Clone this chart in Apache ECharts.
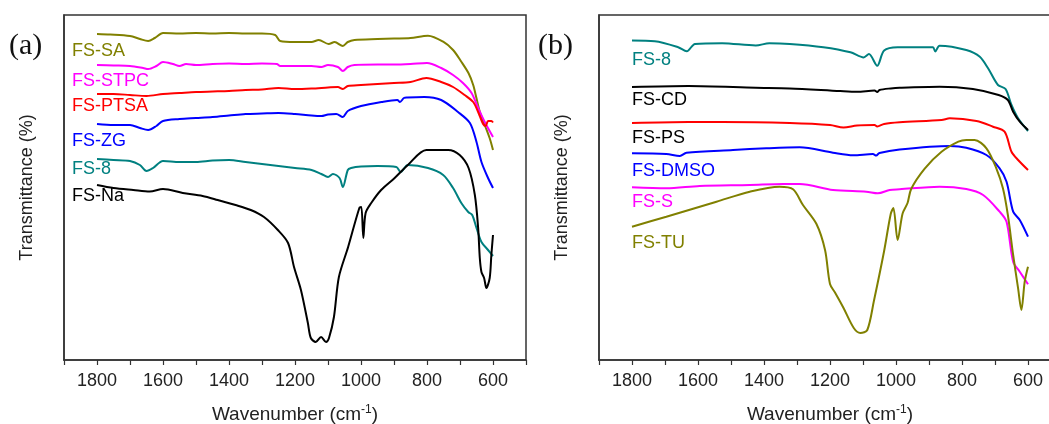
<!DOCTYPE html>
<html>
<head>
<meta charset="utf-8">
<script src="https://cdn.jsdelivr.net/npm/echarts@6/dist/echarts.min.js"></script>
<style>
html,body{margin:0;padding:0;background:#fff;}
#chart{width:1049px;height:424px;}
</style>
</head>
<body>
<div id="chart"></div>
<script>
// x tick labels (wavenumber, cm-1)
const tickLabels = [1800, 1600, 1400, 1200, 1000, 800, 600];

// Panel (a) spectra: [wavenumber, transmittance (a.u., offset)]
const fsSA = [[1800,326],[1760,325.5],[1700,324],[1670,321],[1645,319],[1625,322],[1600,327],[1550,326.5],[1500,327],[1450,326.5],[1400,327],[1350,326.5],[1300,326.5],[1260,325],[1245,319],[1200,318],[1150,318],[1128,320],[1098,316],[1080,318],[1055,314],[1040,318],[1020,320],[950,321],[900,321.5],[850,322],[797,324.3],[751,318.3],[721,310],[696,298.3],[674,286.7],[660,275],[650,261.7],[640,248.3],[625,235],[610,221.7],[600,210]];
const fsSTPC = [[1800,295],[1750,294.5],[1700,294],[1660,292],[1645,291],[1620,294],[1600,298],[1570,296],[1550,294],[1530,296],[1500,295],[1450,296],[1400,296.5],[1350,296],[1300,296.5],[1255,296],[1245,294],[1200,294],[1150,294],[1120,293],[1100,295],[1070,293],[1055,289],[1040,293],[1020,295],[950,295.5],[900,295.5],[850,296],[800,297],[757,292],[721,285],[691,277],[665,267],[645,252],[625,238],[600,223]];
const fsPTSA = [[1800,266],[1750,266],[1700,265],[1650,264],[1600,266],[1550,267],[1500,268],[1450,268.5],[1400,269],[1350,270],[1300,270.5],[1250,272],[1200,271],[1150,271.5],[1100,272.5],[1070,273],[1055,271],[1040,274],[1000,275],[950,276],[900,277],[850,278],[802,282],[757,278],[721,273],[686,265],[660,258],[645,248],[630,236],[622,234],[615,239],[605,239],[600,237.5]];
const fsZG = [[1800,236],[1750,235],[1700,235],[1670,232],[1645,230],[1620,234],[1600,239],[1550,241],[1500,242],[1450,243],[1400,244.5],[1350,246],[1300,246.5],[1250,247],[1200,246],[1150,244.5],[1120,244],[1100,245.5],[1075,246],[1055,243],[1040,249],[1000,254],[938,258],[890,260],[882,258],[870,262],[860,262.5],[808,263],[757,260],[706,248],[670,237],[650,218],[635,198],[615,182],[600,172]];
const fs8a = [[1800,201],[1750,200],[1700,199],[1670,195],[1650,189],[1630,192],[1600,199],[1550,198],[1500,198],[1450,199.5],[1400,200],[1350,198],[1300,196],[1250,194],[1200,192],[1150,190],[1120,186],[1100,183],[1085,186],[1065,182],[1055,173],[1040,190],[1030,192],[1000,193.5],[950,194],[893,193],[880,188],[858,195],[797,192],[751,185],[721,172],[696,157],[675,148],[663,145],[650,132],[635,118],[615,110],[600,104]];
const fsNa = [[1800,175],[1750,172],[1690,170],[1640,168.5],[1600,171],[1540,167],[1480,164],[1434,160],[1380,155],[1334,150],[1294,143],[1252,130],[1221,117],[1203,93],[1182,70],[1161,37],[1152,22],[1137,18],[1121,23],[1106,18],[1097,22],[1082,43],[1067,83],[1039,113],[1005,152],[999,153],[993,122],[986,147],[969,157],[939,170],[898,182],[858,195],[802,210],[736,210],[701,205],[674,192],[655,165],[645,132],[640,102],[635,88],[627,82],[620,72],[610,82],[605,105],[600,125]];

// Panel (b) spectra
const fs8b = [[1800,319.5],[1731,318.8],[1660,312.8],[1634,308.7],[1609,316.1],[1527,316.8],[1425,314.5],[1384,316.8],[1322,316.1],[1220,312.8],[1138,307.7],[1098,302.6],[1082,306],[1057,294.2],[1036,309.4],[995,312.7],[913,312.8],[888,312.7],[881,308.5],[868,314.3],[787,310],[746,303.3],[721,291.7],[691,275],[668,271],[650,255],[630,241.7],[600,229]];
const fsCD = [[1800,273],[1629,274],[1425,272.3],[1322,271.6],[1169,268.9],[1118,268.2],[1065,269.5],[1057,268],[1050,270],[1016,271.6],[989,272.3],[868,273.3],[767,271],[689,265],[661,260],[645,248.3],[625,238.3],[600,230]];
const fsPS = [[1800,237],[1629,238],[1527,238],[1322,237],[1200,235],[1159,232.5],[1118,234.5],[1065,235],[1057,233.5],[1036,236],[989,237.7],[862,240],[837,241.7],[756,239],[706,233.3],[671,228.3],[650,208.3],[630,200],[600,190]];
const fsDMSO = [[1800,206.7],[1696,206],[1655,204],[1635,207.3],[1494,210],[1393,211.7],[1292,212.7],[1191,207.3],[1130,204.7],[1070,206],[1060,204.5],[1050,207],[989,210.5],[837,214],[787,212.3],[726,205],[686,191.7],[665,178.3],[645,148.3],[625,140],[600,123.3]];
const fsS = [[1800,172.7],[1696,171.7],[1595,174],[1443,175],[1342,176],[1292,176],[1191,170],[1090,168.3],[1055,166.7],[1019,170],[989,170.7],[868,173.3],[787,171],[736,165],[686,148.3],[665,138.3],[645,98.3],[625,88.3],[600,75.7]];
const fsTU = [[1800,133.3],[1696,143.3],[1544,158.3],[1443,168.3],[1353,173.3],[1312,170.7],[1282,155],[1241,136],[1215,110],[1200,76],[1184,67],[1159,52],[1128,32],[1108,27],[1087,30],[1067,59],[1036,109],[1016,146],[1008,152],[995,120],[980,146.5],[965,157],[954,171],[913,191.3],[862,208.2],[811,218.3],[787,220],[762,220],[726,211.7],[696,191.7],[676,171.7],[661,145],[645,105],[630,71.7],[620,50],[610,78.3],[600,93.3]];

const namesA = ['FS-SA','FS-STPC','FS-PTSA','FS-ZG','FS-8','FS-Na'];
const dataA = [fsSA, fsSTPC, fsPTSA, fsZG, fs8a, fsNa];
const colorsA = ['#808000','#ff00ff','#ff0000','#0000ff','#008080','#000000'];
const namesB = ['FS-8','FS-CD','FS-PS','FS-DMSO','FS-S','FS-TU'];
const dataB = [fs8b, fsCD, fsPS, fsDMSO, fsS, fsTU];
const colorsB = ['#008080','#000000','#ff0000','#0000ff','#ff00ff','#808000'];
const labelColorsB = ['#008080','#000000','#000000','#0000ff','#ff00ff','#808000'];

const FONT = '"Liberation Sans", Arial, sans-serif';
const AX = '#333';

function xAxisCfg(gi){
  return {
    gridIndex: gi, type: 'value', min: 500, max: 1900, interval: 100, inverse: true,
    axisLine: {show: true, onZero: false, lineStyle: {color: AX, width: 1.5}},
    axisTick: {show: true, inside: false, length: 5, lineStyle: {color: AX, width: 1.2}},
    axisLabel: {fontSize: 18, color: '#222', fontFamily: FONT, margin: 12,
      formatter: v => tickLabels.indexOf(v) >= 0 ? String(v) : ''},
    splitLine: {show: false},
    name: 'Wavenumber (cm{sup|-1})', nameLocation: 'middle', nameGap: 44,
    nameTextStyle: {fontSize: 19, color: '#222', fontFamily: FONT,
      rich: {sup: {fontSize: 12, color: '#222', fontFamily: FONT, verticalAlign: 'top', padding: [0,0,9,0]}}}
  };
}
function yAxisCfg(gi){
  return {
    gridIndex: gi, type: 'value', min: 0, max: 345,
    axisLine: {show: true, lineStyle: {color: AX, width: 1.5}},
    axisTick: {show: false}, axisLabel: {show: false}, splitLine: {show: false},
    name: 'Transmittance (%)', nameLocation: 'middle', nameGap: 28,
    nameTextStyle: {fontSize: 18, color: '#222', fontFamily: FONT}
  };
}

const series = [];
dataA.forEach((d, i) => series.push({name: namesA[i], type: 'line', xAxisIndex: 0, yAxisIndex: 0, data: d,
  showSymbol: false, smooth: 0.3, lineStyle: {color: colorsA[i], width: 2}, itemStyle: {color: colorsA[i]}}));
dataB.forEach((d, i) => series.push({name: namesB[i] + ' ', type: 'line', xAxisIndex: 1, yAxisIndex: 1, data: d,
  showSymbol: false, smooth: 0.3, lineStyle: {color: colorsB[i], width: 2}, itemStyle: {color: colorsB[i]}}));

const labelYA = [51, 81, 106, 141, 169, 196];
const labelYB = [60, 100, 138.5, 171, 202, 243.5];
const graphics = [];
namesA.forEach((n, i) => graphics.push({type: 'text', x: 72, y: labelYA[i],
  style: {text: n, fill: colorsA[i], font: '18px ' + FONT, verticalAlign: 'middle'}}));
namesB.forEach((n, i) => graphics.push({type: 'text', x: 632, y: labelYB[i],
  style: {text: n, fill: labelColorsB[i], font: '18px ' + FONT, verticalAlign: 'middle'}}));
graphics.push({type: 'text', x: 9, y: 46, style: {text: '(a)', fill: '#111', font: '30px "Liberation Serif", "Times New Roman", serif', verticalAlign: 'middle'}});
graphics.push({type: 'text', x: 538, y: 46, style: {text: '(b)', fill: '#111', font: '30px "Liberation Serif", "Times New Roman", serif', verticalAlign: 'middle'}});

const chart = echarts.init(document.getElementById('chart'), null, {renderer: 'canvas'});
chart.setOption({
  backgroundColor: '#ffffff',
  animation: false,
  grid: [
    {left: 64, top: 15, width: 462, height: 345, show: true, borderColor: AX, borderWidth: 1.5, backgroundColor: 'transparent', outerBoundsMode: 'none', containLabel: false},
    {left: 599, top: 15, width: 462, height: 345, show: true, borderColor: AX, borderWidth: 1.5, backgroundColor: 'transparent', outerBoundsMode: 'none', containLabel: false}
  ],
  xAxis: [xAxisCfg(0), xAxisCfg(1)],
  yAxis: [yAxisCfg(0), yAxisCfg(1)],
  series: series,
  graphic: graphics
});
</script>
</body>
</html>
